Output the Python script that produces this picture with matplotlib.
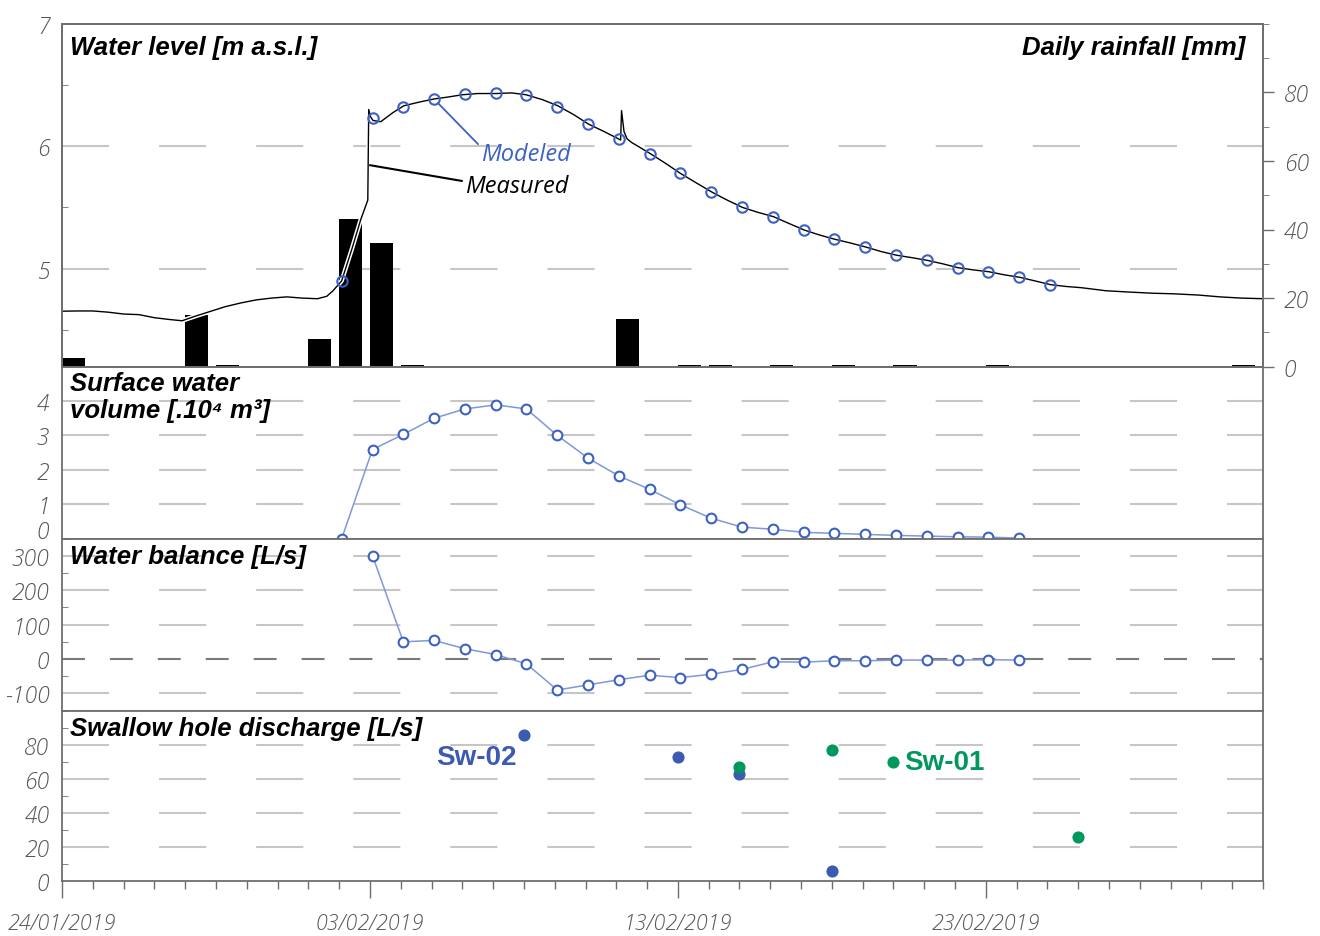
import numpy as np
import pandas as pd
import matplotlib
matplotlib.use("Agg")
import matplotlib.pyplot as plt
import matplotlib.dates as mdates
import matplotlib.patheffects as pe
import matplotlib.transforms as mtransforms
from matplotlib.ticker import FixedLocator, MultipleLocator

plt.rcParams["axes.unicode_minus"] = False

start = pd.Timestamp("2019-01-24")

# daily rainfall, day offset from 24/01/2019 [mm]
rain_day = [0, 4, 5, 8, 9, 10, 11, 18, 20, 21, 23, 25, 27, 30, 38]
rain_mm = [2.5, 15, 0.5, 8, 43, 36, 0.5, 14, 0.4, 0.4, 0.4, 0.4, 0.4, 0.4, 0.4]

# measured water level [m a.s.l.]
level_day = [0, 0.5, 1, 1.5, 2, 2.5, 3, 3.5, 3.9, 4.3,
             4.8, 5.3, 5.8, 6.3, 6.8, 7.3, 7.8, 8.3, 8.6, 8.8,
             9.08, 9.4, 9.7, 9.93, 9.96, 10.02, 10.1, 10.35, 10.75, 11.1,
             11.6, 12.07, 12.5, 13.0, 13.5, 14.1, 14.6, 15.07, 15.6, 16.1,
             16.6, 17.1, 17.6, 18.07, 18.14, 18.17, 18.25, 18.35, 18.5, 19.1,
             19.6, 20.07, 20.6, 21.1, 21.6, 22.1, 22.6, 23.1, 23.6, 24.1,
             24.6, 25.1, 25.6, 26.1, 26.6, 27.1, 27.6, 28.1, 28.6, 29.1,
             29.6, 30.1, 30.6, 31.1, 31.6, 32.1, 32.6, 33.1, 33.9, 34.6,
             35.4, 36.1, 36.9, 37.6, 38.3, 39.0]
level_obs = [4.653, 4.655, 4.655, 4.645, 4.63, 4.625, 4.60, 4.585, 4.575, 4.61,
             4.65, 4.69, 4.72, 4.745, 4.76, 4.77, 4.76, 4.755, 4.775, 4.82,
             4.90, 5.15, 5.40, 5.56, 6.30, 6.24, 6.21, 6.20, 6.275, 6.33,
             6.36, 6.385, 6.40, 6.42, 6.43, 6.43, 6.435, 6.42, 6.38, 6.33,
             6.26, 6.18, 6.12, 6.06, 6.05, 6.29, 6.12, 6.06, 6.03, 5.94,
             5.86, 5.78, 5.70, 5.626, 5.56, 5.50, 5.46, 5.425, 5.37, 5.316,
             5.275, 5.24, 5.21, 5.177, 5.14, 5.11, 5.09, 5.068, 5.04, 5.008,
             4.99, 4.975, 4.95, 4.93, 4.90, 4.87, 4.855, 4.845, 4.82, 4.81,
             4.80, 4.795, 4.785, 4.77, 4.76, 4.755]

# model output, one value per day (02:00)
model_level = [4.90, 6.234, 6.32, 6.384, 6.425, 6.433, 6.42, 6.32, 6.18, 6.057,
               5.94, 5.78, 5.626, 5.50, 5.425, 5.316, 5.24, 5.177, 5.11, 5.068,
               5.008, 4.975, 4.93, 4.866]                      # from day 9
volume = [0, 2.59, 3.03, 3.50, 3.77, 3.89, 3.77, 3.0, 2.34, 1.82,
          1.43, 0.98, 0.59, 0.33, 0.27, 0.18, 0.15, 0.12, 0.09, 0.07,
          0.05, 0.04, 0.01]                                   # from day 9
balance = [300, 50, 54, 30, 13, -14, -90, -75, -60, -47,
           -54, -44, -30, -8, -9, -5, -5, -3, -3, -3,
           -2, -3]                                            # from day 10

# swallow hole discharge [L/s]
sw02_day = [15, 20, 22, 25]
sw02_q = [86, 73, 63, 6]
sw01_day = [22, 25, 27, 33]
sw01_q = [67, 77, 70, 26]


def to_time(days, hours=0):
    return start + pd.to_timedelta(np.asarray(days, dtype=float), unit="D") + pd.Timedelta(hours=hours)


t_rain = to_time(rain_day)
t_level = to_time(level_day)
t_model = to_time(np.arange(9, 9 + len(model_level)), 2)
t_vol = to_time(np.arange(9, 9 + len(volume)), 2)
t_bal = to_time(np.arange(10, 10 + len(balance)), 2)
t_sw02 = to_time(sw02_day)
t_sw01 = to_time(sw01_day)

BLUE = "#3d62c2"
LINE_BLUE = "#7f98d8"
SW02 = "#3a5bb0"
SW01 = "#00985c"
SPINE = "#6e6e6e"
GRID = "#c6c6c6"
TICKC = "#555555"

tick_font = dict(family=["Open Sans", "DejaVu Sans"], style="italic", weight="light", size=16.5)
date_font = dict(family=["Open Sans", "DejaVu Sans"], style="italic", weight="light", size=15.5)
title_font = dict(family=["Liberation Sans", "DejaVu Sans"], style="italic", weight="bold", size=18.5)

fig = plt.figure(figsize=(13.2, 9.37), dpi=100)
W, H = 1320, 937
left, right = 62 / W, 1263 / W
edges = [24.7, 367.7, 539.5, 711.7, 882.3]   # panel boundaries in px from top

axes = []
for i in range(4):
    y0 = 1 - edges[i + 1] / H
    y1 = 1 - edges[i] / H
    ax = fig.add_axes([left, y0, right - left, y1 - y0], sharex=axes[0] if axes else None)
    axes.append(ax)
ax1, ax2, ax3, ax4 = axes

x0 = start
x1 = start + pd.Timedelta(days=39)

grid_dash = (0, (22.6, 24))
for ax in axes:
    ax.set_xlim(x0, x1)
    for s in ax.spines.values():
        s.set_color(SPINE)
        s.set_linewidth(1.3)
    ax.tick_params(axis="y", which="major", length=0, pad=9, labelcolor=TICKC)
    ax.tick_params(axis="y", which="minor", direction="in", length=4, color=SPINE)


def hgrid(ax, values):
    for v in values:
        ax.axhline(v, color=GRID, lw=1.5, linestyle=grid_dash, zorder=0.5)


# ---- water level + rainfall ----
ax1r = ax1.twinx()
ax1r.set_ylim(0, 100)
ax1.set_ylim(4.2, 7)
ax1.yaxis.set_major_locator(FixedLocator([5, 6, 7]))
ax1.yaxis.set_minor_locator(FixedLocator([4.5, 5.5, 6.5]))
hgrid(ax1, [5, 6])

# bars live on the left axes (below the level line) but use the rainfall scale
rain_trans = mtransforms.blended_transform_factory(ax1.transData, ax1r.transData)
ax1.bar(t_rain, rain_mm, width=0.75, align="edge", color="black",
        transform=rain_trans, zorder=2)
ax1.set_ylim(4.2, 7)
ax1.set_xlim(x0, x1)

meas, = ax1.plot(t_level, level_obs, color="black", lw=1.0, zorder=3)
meas.set_path_effects([pe.Stroke(linewidth=3.2, foreground="white"), pe.Normal()])
ax1.plot(t_model, model_level, linestyle="none", marker="o", ms=7.5, mfc="none",
         mec=BLUE, mew=1.5, zorder=4)

ax1r.yaxis.set_major_locator(FixedLocator([0, 20, 40, 60, 80]))
ax1r.yaxis.set_minor_locator(MultipleLocator(10))
ax1r.tick_params(axis="y", which="major", direction="out", length=8, width=1,
                 color=SPINE, pad=7, labelcolor=TICKC)
ax1r.tick_params(axis="y", which="minor", direction="out", length=4, color=SPINE)
for s in ax1r.spines.values():
    s.set_color(SPINE)
    s.set_linewidth(1.3)

ax1.annotate("Modeled", xy=(t_model[3], model_level[3]),
             xytext=(start + pd.Timedelta(days=13.6), 5.935),
             ha="left", va="center", color=BLUE,
             family=["Open Sans", "DejaVu Sans"], style="italic", size=17,
             arrowprops=dict(arrowstyle="-", color=BLUE, lw=1.3, shrinkA=0, shrinkB=4,
                             relpos=(0, 0.8)), zorder=5)
ax1.annotate("Measured", xy=(start + pd.Timedelta(days=10.0), 5.845),
             xytext=(start + pd.Timedelta(days=13.08), 5.673),
             ha="left", va="center", color="black",
             family=["Open Sans", "DejaVu Sans"], style="italic", size=17,
             arrowprops=dict(arrowstyle="-", color="black", lw=1.5, shrinkA=0, shrinkB=0,
                             relpos=(0, 0.7)), zorder=5)

ax1.annotate("Water level [m a.s.l.]", xy=(0, 1), xycoords="axes fraction",
             xytext=(6, -8), textcoords="offset points", ha="left", va="top", **title_font)
ax1.annotate("Daily rainfall [mm]", xy=(1, 1), xycoords="axes fraction",
             xytext=(-13, -8), textcoords="offset points", ha="right", va="top", **title_font)

# ---- surface water volume ----
ax2.set_ylim(0, 5)
ax2.yaxis.set_major_locator(FixedLocator([0, 1, 2, 3, 4]))
hgrid(ax2, [1, 2, 3, 4])
ax2.plot(t_vol, volume, color=LINE_BLUE, lw=1.1, marker="o", ms=7, mfc="white",
         mec=BLUE, mew=1.5, zorder=3, clip_on=False)
ax2.annotate("Surface water\nvolume [.10\u2074 m\u00b3]", xy=(0, 1), xycoords="axes fraction",
             xytext=(6, -3), textcoords="offset points", ha="left", va="top",
             linespacing=1.15, **title_font)

# ---- water balance ----
ax3.set_ylim(-150, 350)
ax3.yaxis.set_major_locator(FixedLocator([-100, 0, 100, 200, 300]))
ax3.yaxis.set_minor_locator(MultipleLocator(50))
hgrid(ax3, [-100, 100, 200, 300])
ax3.axhline(0, color="#7a7a7a", lw=1.5, linestyle=(0, (11, 12)), zorder=0.6)
ax3.plot(t_bal, balance, color=LINE_BLUE, lw=1.1, marker="o", ms=7, mfc="white",
         mec=BLUE, mew=1.5, zorder=3)
ax3.annotate("Water balance [L/s]", xy=(0, 1), xycoords="axes fraction",
             xytext=(6, -4), textcoords="offset points", ha="left", va="top", **title_font)

# ---- swallow hole discharge ----
ax4.set_ylim(0, 100)
ax4.yaxis.set_major_locator(FixedLocator([0, 20, 40, 60, 80]))
ax4.yaxis.set_minor_locator(MultipleLocator(10))
hgrid(ax4, [20, 40, 60, 80])
ax4.scatter(t_sw02, sw02_q, s=60, color=SW02, zorder=3)
ax4.scatter(t_sw01, sw01_q, s=60, color=SW01, zorder=3)
ax4.annotate("Sw-02", xy=(t_sw02[0], sw02_q[0]), xytext=(-5, -16),
             textcoords="offset points", ha="right", va="center", color=SW02,
             family=["Liberation Sans", "DejaVu Sans"], weight="bold", size=20)
ax4.annotate("Sw-01", xy=(t_sw01[2], sw01_q[2]), xytext=(8, 0),
             textcoords="offset points", ha="left", va="center", color=SW01,
             family=["Liberation Sans", "DejaVu Sans"], weight="bold", size=20)
ax4.annotate("Swallow hole discharge [L/s]", xy=(0, 1), xycoords="axes fraction",
             xytext=(6, -4), textcoords="offset points", ha="left", va="top", **title_font)

# shared time axis, labels only on the bottom panel
major_days = mdates.date2num(to_time([0, 10, 20, 30]).to_pydatetime())
for ax in (ax1, ax2, ax3):
    ax.tick_params(axis="x", which="both", bottom=False, labelbottom=False)
ax4.xaxis.set_major_locator(FixedLocator(major_days))
ax4.xaxis.set_minor_locator(mdates.DayLocator())
ax4.xaxis.set_major_formatter(mdates.DateFormatter("%d/%m/%Y"))
ax4.tick_params(axis="x", which="major", direction="out", length=12, width=1,
                color=SPINE, pad=10, labelcolor=TICKC)
ax4.tick_params(axis="x", which="minor", direction="out", length=6, width=1, color=SPINE)
ax4.set_xlim(x0, x1)

fig.canvas.draw()
for lab in ax4.get_xticklabels():
    lab.set(**date_font)
for ax in axes + [ax1r]:
    for lab in ax.get_yticklabels():
        lab.set(**tick_font)

# lift the "0" of the volume panel clear of the balance panel's "300"
lift = mtransforms.ScaledTranslation(0, 7 / 72, fig.dpi_scale_trans)
for tick in ax2.yaxis.get_major_ticks()[:1]:
    tick.label1.set_transform(tick.label1.get_transform() + lift)

fig.savefig("out.png", dpi=100)
